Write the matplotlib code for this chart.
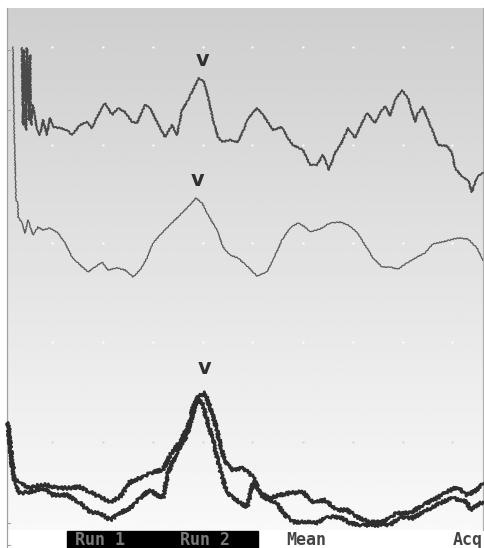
import numpy as np
import matplotlib.pyplot as plt
from matplotlib.patches import Rectangle

# Traces (screen units: x to the right, y downward)
top_t = [22, 23, 24, 26, 27, 29, 30, 31, 33, 37, 40, 43, 47, 50, 53, 60, 67, 72, 80, 87, 92,
         97, 105, 112, 118, 125, 132, 137, 145, 150, 155, 160, 165, 172, 177, 182, 187, 193, 199, 204, 208,
         213, 218, 222, 230, 238, 245, 247, 257, 263, 273, 282, 287, 293, 303, 310, 317, 323, 329, 335,
         342, 348, 355, 360, 367, 375, 380, 385, 390, 395, 402, 408, 415, 418, 423, 427, 433, 438, 447,
         452, 455, 462, 468, 472, 477, 483]
top_v = [48, 125, 50, 130, 48, 120, 55, 125, 105, 130, 135, 120, 135, 118, 127, 128, 130, 135, 125, 122, 128,
         117, 103, 115, 108, 112, 122, 123, 105, 108, 118, 128, 137, 125, 135, 110, 102, 90, 78, 82, 97,
         120, 137, 142, 140, 142, 127, 120, 108, 115, 130, 127, 137, 145, 150, 165, 165, 155, 170, 153,
         142, 128, 138, 127, 113, 123, 113, 106, 116, 100, 90, 98, 122, 113, 107, 117, 132, 145, 146,
         153, 168, 177, 180, 192, 177, 173]

mid_t = [13, 14, 16, 18, 18, 22, 25, 28, 33, 38, 43, 50, 58, 65, 72, 80, 88, 95, 102, 108, 117, 125, 133, 140,
         147, 153, 162, 170, 180, 188, 196, 202, 208, 217, 223, 230, 238, 248, 257, 267, 273, 282, 290,
         298, 305, 310, 320, 330, 340, 348, 357, 365, 373, 382, 390, 398, 407, 417, 425, 433, 442, 450,
         458, 468, 477, 483]
mid_v = [47, 120, 200, 203, 217, 223, 233, 220, 235, 227, 230, 228, 233, 243, 257, 265, 272, 267, 262, 270, 268, 270, 277, 270,
         258, 243, 233, 225, 215, 207, 198, 203, 215, 230, 247, 255, 258, 267, 276, 272, 260, 240, 228,
         223, 227, 232, 229, 223, 222, 225, 232, 245, 258, 267, 267, 269, 263, 257, 253, 244, 242, 240,
         238, 239, 248, 260]

run1_t = [8, 12, 15, 20, 30, 40, 47, 57, 67, 80, 90, 100, 110, 120, 130, 140, 153, 163, 170, 180, 188, 193,
          198, 205, 210, 215, 220, 225, 233, 243, 253, 260, 270, 280, 290, 303, 313, 325, 337, 347, 357,
          370, 383, 397, 410, 423, 437, 447, 457, 467, 477, 483]
run1_v = [423, 460, 480, 483, 488, 485, 485, 488, 488, 487, 492, 497, 502, 497, 482, 478, 472, 470, 455, 442, 427, 408,
          397, 393, 407, 423, 443, 462, 470, 468, 477, 493, 498, 495, 493, 492, 503, 500, 510, 510, 517,
          522, 522, 513, 513, 505, 498, 492, 487, 495, 490, 483]

run2_t = [8, 12, 15, 20, 30, 43, 53, 67, 80, 90, 100, 110, 120, 130, 140, 150, 157, 163, 168, 177, 187, 193,
          198, 202, 207, 213, 220, 227, 233, 240, 247, 253, 263, 277, 283, 293, 307, 317, 327, 340, 350,
          360, 373, 390, 400, 413, 427, 440, 453, 467, 470, 477, 483]
run2_v = [423, 465, 485, 493, 492, 488, 495, 495, 503, 512, 513, 520, 513, 508, 498, 490, 495, 498, 473, 452, 435, 413,
          400, 403, 420, 440, 470, 493, 497, 503, 507, 483, 497, 503, 513, 522, 522, 523, 517, 517, 523,
          525, 525, 525, 517, 518, 510, 503, 498, 502, 510, 505, 502]

# cursor marks over the peaks
mark_t = [203, 198, 205]
mark_v = [60, 180, 368]

grid_cols = [52, 103, 153, 203, 252, 303, 353, 403, 452]
grid_rows = [47, 145, 243, 342, 442]

menu_labels = ["Run 1", "Run 2", "Mean", "Acq"]
menu_pos = [100, 205, 306, 468]

fig = plt.figure(figsize=(4.85, 5.48), dpi=100)
ax = fig.add_axes([0, 0, 1, 1])
ax.set_xlim(0, 485)
ax.set_ylim(548, 0)
ax.axis("off")

# screen background, gray at the top fading to white
shade = np.linspace(0.81, 0.975, 256).reshape(-1, 1)
ax.imshow(shade, cmap="gray", vmin=0, vmax=1, extent=[7, 483, 530, 8], aspect="auto", zorder=0)

ax.plot([7.5, 7.5], [8, 548], color="#a0a0a0", lw=0.9, zorder=1)
ax.plot([483, 483], [8, 530], color="#b0b0b0", lw=0.9, zorder=1)
for yy in [50, 110, 523, 545]:
    ax.plot([7.5, 10], [yy, yy], color="#a0a0a0", lw=0.8, zorder=1)

gx, gy = np.meshgrid(grid_cols, grid_rows)
ax.scatter(gx[:-1].ravel(), gy[:-1].ravel(), s=2.5, color="white", lw=0, zorder=1)
ax.scatter(gx[-1], gy[-1], s=2.5, color="#d4d4d4", lw=0, zorder=1)

l1, = ax.plot(top_t, top_v, color="#4a4a4a", lw=1.3, zorder=3)
l1.set_sketch_params(0.7, 3, 2)
l2, = ax.plot(mid_t, mid_v, color="#5a5a5a", lw=0.9, zorder=3)
l2.set_sketch_params(0.5, 3, 2)
l3, = ax.plot(run1_t, run1_v, color="#2e2e2e", lw=2.0, zorder=3)
l3.set_sketch_params(1.6, 3, 2)
l4, = ax.plot(run2_t, run2_v, color="#2e2e2e", lw=2.0, zorder=3)
l4.set_sketch_params(1.6, 3, 2)

for mx, my in zip(mark_t, mark_v):
    ax.text(mx, my, "v", ha="center", va="center", fontsize=15, fontweight="bold",
            color="#303030", family="DejaVu Sans", zorder=4)

# soft-key labels along the bottom
ax.add_patch(Rectangle((67, 531), 191, 17, color="black", zorder=2))
for i, (lab, xp) in enumerate(zip(menu_labels, menu_pos)):
    ax.text(xp, 540, lab, ha="center", va="center", fontsize=12, family="DejaVu Sans Mono",
            fontweight="bold", color="#7a7a7a" if i < 2 else "#444444", zorder=3, clip_on=False)

fig.savefig("out.png", dpi=100)
plt.close(fig)
